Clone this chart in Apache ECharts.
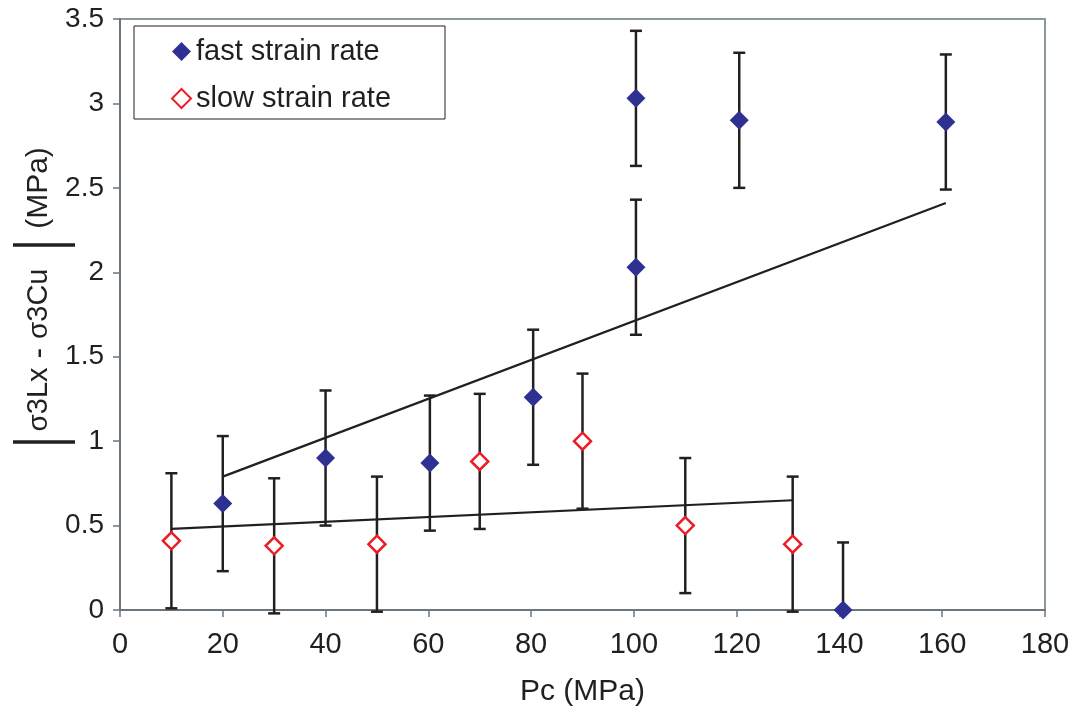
<!DOCTYPE html>
<html>
<head>
<meta charset="utf-8">
<script src="https://cdn.jsdelivr.net/npm/echarts@6/dist/echarts.min.js"></script>
<style>
  html, body { margin: 0; padding: 0; background: #fff; }
  #chart { width: 1075px; height: 712px; }
</style>
</head>
<body>
<div id="chart"></div>
<script>
// Confining pressure (MPa) and |σ3Lx - σ3Cu| (MPa) for the two strain rates
const fastX    = [20, 40, 60.3, 80.4, 100.4, 100.4, 120.5, 140.7, 160.7];
const fastY    = [0.63, 0.90, 0.87, 1.26, 2.03, 3.03, 2.90, 0.00, 2.89];
const fastLow  = [0.23, 0.50, 0.47, 0.86, 1.63, 2.63, 2.50, 0.00, 2.49];
const fastHigh = [1.03, 1.30, 1.27, 1.66, 2.43, 3.43, 3.30, 0.40, 3.29];

const slowX    = [10, 30, 50, 70, 90, 110, 130.9];
const slowY    = [0.41, 0.38, 0.39, 0.88, 1.00, 0.50, 0.39];
const slowLow  = [0.01, -0.02, -0.01, 0.48, 0.60, 0.10, -0.01];
const slowHigh = [0.81, 0.78, 0.79, 1.28, 1.40, 0.90, 0.79];

// Linear trend line end points
const fastTrend = [[20, 0.79], [160.7, 2.41]];
const slowTrend = [[10, 0.48], [130.9, 0.65]];

const xTicks = { min: 0, max: 180, interval: 20 };
const yTicks = { min: 0, max: 3.5, interval: 0.5 };

const INK = '#231f20';
const BLUE = '#2e3192';
const RED = '#ec1c24';
const FONT = '"Liberation Sans", Arial, sans-serif';

function points(xs, ys) { return xs.map((x, i) => [x, ys[i]]); }
function bars(xs, ys, lo, hi) { return xs.map((x, i) => [x, ys[i], lo[i], hi[i]]); }

function renderErrorBar(params, api) {
  const x = api.value(0), y = api.value(1), lo = api.value(2), hi = api.value(3);
  const pLo = api.coord([x, lo]);
  const pHi = api.coord([x, hi]);
  const half = 6;
  const style = { stroke: INK, lineWidth: 2.5 };
  const children = [
    { type: 'line', shape: { x1: pLo[0], y1: pLo[1], x2: pHi[0], y2: pHi[1] }, style },
    { type: 'line', shape: { x1: pHi[0] - half, y1: pHi[1], x2: pHi[0] + half, y2: pHi[1] }, style }
  ];
  if (lo < y) {
    children.push({ type: 'line', shape: { x1: pLo[0] - half, y1: pLo[1], x2: pLo[0] + half, y2: pLo[1] }, style });
  }
  return { type: 'group', children };
}

// Vertical y-axis title: absolute-value bars around the stress difference, then the unit
const titleRich = {
  s:   { fontSize: 28, fontFamily: FONT, fill: INK, verticalAlign: 'middle' },
  sub: { fontSize: 29, fontFamily: FONT, fill: INK, verticalAlign: 'middle' },
  d:   { fontSize: 32, fontFamily: FONT, fill: INK, verticalAlign: 'middle' }
};
const absBar = { stroke: INK, lineWidth: 3.5 };

const chart = echarts.init(document.getElementById('chart'), null, { renderer: 'canvas' });

chart.setOption({
  backgroundColor: '#fff',
  animation: false,
  textStyle: { fontFamily: FONT },
  grid: {
    left: 120, right: 30, top: 19, bottom: 101,
    show: true, borderColor: '#8e989f', borderWidth: 2, backgroundColor: '#fff'
  },
  legend: {
    data: ['fast strain rate', 'slow strain rate'],
    orient: 'vertical',
    left: 134, top: 26,
    padding: [11, 54, 6, 37],
    itemGap: 18,
    itemWidth: 19, itemHeight: 19,
    borderColor: INK, borderWidth: 1,
    backgroundColor: '#fff',
    textStyle: { fontFamily: FONT, fontSize: 29, color: INK }
  },
  xAxis: {
    type: 'value',
    min: xTicks.min, max: xTicks.max, interval: xTicks.interval,
    name: 'Pc (MPa)', nameLocation: 'middle', nameGap: 67,
    nameTextStyle: { fontFamily: FONT, fontSize: 30, color: INK },
    axisLine: { show: true, lineStyle: { color: '#6d757c', width: 2 } },
    axisTick: { show: true, inside: false, length: 7, lineStyle: { color: '#6d757c', width: 1.5 } },
    axisLabel: { fontFamily: FONT, fontSize: 29, color: INK, margin: 20 },
    splitLine: { show: false }
  },
  yAxis: {
    type: 'value',
    min: yTicks.min, max: yTicks.max, interval: yTicks.interval,
    axisLine: { show: true, lineStyle: { color: '#6d757c', width: 2 } },
    axisTick: { show: true, inside: false, length: 7, lineStyle: { color: '#6d757c', width: 1.5 } },
    axisLabel: { fontFamily: FONT, fontSize: 28, color: INK, margin: 16 },
    splitLine: { show: false }
  },
  graphic: [
    {
      type: 'line', shape: { x1: 13, y1: 245, x2: 75, y2: 245 }, style: absBar
    },
    {
      type: 'line', shape: { x1: 13, y1: 442, x2: 75, y2: 442 }, style: absBar
    },
    {
      type: 'text',
      x: 39, y: 350,
      rotation: Math.PI / 2,
      style: {
        text: '{s|σ}{sub|3Lx}{d| - }{s|σ}{sub|3Cu}',
        align: 'center', verticalAlign: 'middle',
        fill: INK, fontFamily: FONT,
        rich: titleRich
      }
    },
    {
      type: 'text',
      x: 39, y: 188,
      rotation: Math.PI / 2,
      style: {
        text: '(MPa)',
        align: 'center', verticalAlign: 'middle',
        fill: INK, fontFamily: FONT, fontSize: 30
      }
    }
  ],
  series: [
    {
      name: 'fast error', type: 'custom', z: 2,
      renderItem: renderErrorBar,
      encode: { x: 0, y: [1, 2, 3] },
      data: bars(fastX, fastY, fastLow, fastHigh),
      silent: true
    },
    {
      name: 'slow error', type: 'custom', z: 2,
      renderItem: renderErrorBar,
      encode: { x: 0, y: [1, 2, 3] },
      data: bars(slowX, slowY, slowLow, slowHigh),
      silent: true
    },
    {
      name: 'fast trend', type: 'line', z: 3,
      data: fastTrend, symbol: 'none',
      lineStyle: { color: INK, width: 2.2 }, silent: true
    },
    {
      name: 'slow trend', type: 'line', z: 3,
      data: slowTrend, symbol: 'none',
      lineStyle: { color: INK, width: 2.2 }, silent: true
    },
    {
      name: 'fast strain rate', type: 'scatter', z: 4,
      symbol: 'diamond', symbolSize: 19,
      itemStyle: { color: BLUE, opacity: 1 },
      data: points(fastX, fastY)
    },
    {
      name: 'slow strain rate', type: 'scatter', z: 4,
      symbol: 'diamond', symbolSize: 17,
      itemStyle: { color: '#fff', borderColor: RED, borderWidth: 2.5, opacity: 1 },
      data: points(slowX, slowY)
    }
  ]
});
</script>
</body>
</html>
